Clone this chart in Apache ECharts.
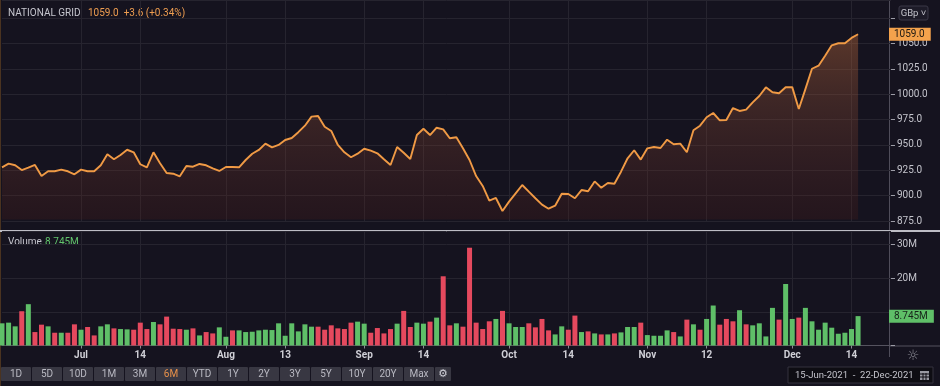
<!DOCTYPE html>
<html>
<head>
<meta charset="utf-8">
<script src="https://cdn.jsdelivr.net/npm/echarts@6/dist/echarts.min.js"></script>
<style>
html,body{margin:0;padding:0;background:#15131f;}
#chart{width:940px;height:386px;}
</style>
</head>
<body>
<div id="chart"></div>
<script>
// Trading days (LSE), 15-Jun-2021 .. 22-Dec-2021
const categories = [
 'Jun 15','Jun 16','Jun 17','Jun 18','Jun 21','Jun 22','Jun 23','Jun 24','Jun 25','Jun 28','Jun 29','Jun 30',
 'Jul 1','Jul 2','Jul 5','Jul 6','Jul 7','Jul 8','Jul 9','Jul 12','Jul 13','Jul 14','Jul 15','Jul 16','Jul 19','Jul 20','Jul 21','Jul 22','Jul 23','Jul 26','Jul 27','Jul 28','Jul 29','Jul 30',
 'Aug 2','Aug 3','Aug 4','Aug 5','Aug 6','Aug 9','Aug 10','Aug 11','Aug 12','Aug 13','Aug 16','Aug 17','Aug 18','Aug 19','Aug 20','Aug 23','Aug 24','Aug 25','Aug 26','Aug 27','Aug 31',
 'Sep 1','Sep 2','Sep 3','Sep 6','Sep 7','Sep 8','Sep 9','Sep 10','Sep 13','Sep 14','Sep 15','Sep 16','Sep 17','Sep 20','Sep 21','Sep 22','Sep 23','Sep 24','Sep 27','Sep 28','Sep 29','Sep 30',
 'Oct 1','Oct 4','Oct 5','Oct 6','Oct 7','Oct 8','Oct 11','Oct 12','Oct 13','Oct 14','Oct 15','Oct 18','Oct 19','Oct 20','Oct 21','Oct 22','Oct 25','Oct 26','Oct 27','Oct 28','Oct 29',
 'Nov 1','Nov 2','Nov 3','Nov 4','Nov 5','Nov 8','Nov 9','Nov 10','Nov 11','Nov 12','Nov 15','Nov 16','Nov 17','Nov 18','Nov 19','Nov 22','Nov 23','Nov 24','Nov 25','Nov 26','Nov 29','Nov 30',
 'Dec 1','Dec 2','Dec 3','Dec 6','Dec 7','Dec 8','Dec 9','Dec 10','Dec 13','Dec 14','Dec 15','Dec 16','Dec 17','Dec 20','Dec 21','Dec 22'
];

// Closing price, GBp
const closes = [
 927.9,931.5,929.9,925.2,927.5,930.2,919.3,924.0,924.0,925.6,924.0,921.0,925.6,924.0,924.0,929.9,940.7,935.8,940.0,945.2,
 942.7,930.9,927.9,942.7,931.9,922.3,921.6,919.0,929.2,928.5,931.2,929.9,926.9,924.3,928.2,928.2,927.9,935.1,941.3,945.0,
 951.2,947.6,949.9,954.8,956.8,962.5,968.9,977.8,978.4,967.9,963.7,949.9,942.7,937.8,941.3,946.2,944.3,941.7,935.8,930.2,
 947.9,942.3,936.1,959.7,965.9,959.7,966.9,965.3,956.5,957.5,946.6,935.1,919.3,909.5,895.0,897.7,884.9,894.1,902.3,910.5,
 903.9,897.4,891.1,887.1,890.1,901.9,901.6,897.4,905.5,904.3,914.0,907.8,912.4,911.7,923.6,936.8,944.7,935.5,946.6,947.9,
 946.9,955.1,950.6,951.2,942.7,964.4,968.9,977.2,981.4,974.2,974.5,986.3,983.4,984.7,991.9,998.2,1006.7,1001.8,1000.8,1006.7,
 1006.9,985.3,1004.9,1025.0,1028.0,1037.9,1048.1,1050.1,1050.1,1055.4,1059.0
];

// Volume, millions of shares
const volumes = [
 6.6,6.8,5.7,10.2,12.3,4.0,6.2,5.7,3.8,3.8,3.8,6.3,4.7,5.5,3.0,5.7,6.3,5.1,4.9,4.8,
 4.7,6.8,4.9,7.0,6.3,8.6,5.0,4.9,4.7,5.1,3.0,4.0,3.6,5.4,2.6,4.5,4.5,4.0,4.1,4.5,
 4.7,4.6,6.6,2.9,6.6,4.2,6.3,5.6,5.6,4.7,6.0,5.1,4.9,6.8,7.1,6.5,3.8,5.2,3.6,4.9,
 6.5,10.3,5.5,6.8,6.5,7.1,8.3,20.6,6.0,6.6,5.6,29.1,6.8,4.9,7.2,7.9,10.3,6.6,5.5,5.5,
 6.6,5.4,7.9,4.5,3.3,5.7,4.7,8.9,4.0,4.2,3.6,3.3,3.3,3.6,3.9,5.5,5.5,6.8,3.1,2.9,
 2.9,4.5,4.0,2.7,7.7,6.3,4.7,7.9,11.9,6.2,7.9,7.2,10.5,6.3,6.0,6.6,2.7,11.2,7.7,18.3,
 7.9,8.3,11.2,7.2,4.7,6.8,5.3,3.5,3.8,4.9,8.745
];

// Bar direction: G = up day, R = down day
const volumeDir = (
 'GGGRGRRGRG' + 'RRGRRGGRGG' + 'RRRGRRRRGR' + 'GRRGGRGGGG' + 'GGGGGGGGRR' +
 'RRRRGGRRRR' + 'GRRGGRGRRG' + 'RRRRRGRGGG' + 'RRRRGGRRGR' + 'GRGRGGGRGG' +
 'GGRGRGRGGR' + 'RRGRGGGGRG' + 'GRGGGGGGGGG'
).split('');

// X-axis tick dates and their labels
const tickDates  = ['Jul 1','Jul 14','Aug 2','Aug 13','Sep 1','Sep 14','Oct 1','Oct 14','Nov 1','Nov 12','Dec 1','Dec 14'];
const tickLabels = ['Jul','14','Aug','13','Sep','14','Oct','14','Nov','12','Dec','14'];

const rangeButtons = ['1D','5D','10D','1M','3M','6M','YTD','1Y','2Y','3Y','5Y','10Y','20Y','Max'];

const BG = '#15131f';
const GRIDC = '#26242f';
const GREEN = '#5fbf68';
const RED = '#e5495e';
const ORANGE = '#f09a45';
const FONT = 'Roboto, "Liberation Sans", sans-serif';

const lastClose = closes[closes.length - 1];
const lastVol = volumes[volumes.length - 1];

const tickSet = {};
tickDates.forEach((d, i) => { tickSet[d] = tickLabels[i]; });
const isTick = (idx) => tickSet[categories[idx]] !== undefined;

const chart = echarts.init(document.getElementById('chart'), null, {renderer: 'canvas'});

function txt(x, y, text, fill, size, extra) {
  return {
    type: 'text', x: x, y: y, silent: true,
    style: Object.assign({text: text, fill: fill, fontSize: size, fontFamily: FONT, verticalAlign: 'middle'}, extra || {})
  };
}

// UI buttons (graphic)
const btnGraphics = [];
rangeButtons.forEach((b, i) => {
  const x = 1 + i * 31;
  btnGraphics.push({
    type: 'rect', shape: {x: x, y: 367, width: 30, height: 14, r: 1},
    style: {fill: '#383742'}, silent: true
  });
  btnGraphics.push(txt(x + 15, 374.5, b, b === '6M' ? '#e8914a' : '#b9b9c2', 10, {align: 'center'}));
});
btnGraphics.push({type: 'rect', shape: {x: 435, y: 367, width: 16, height: 14, r: 1}, style: {fill: '#383742'}, silent: true});
btnGraphics.push({type: 'text', x: 443, y: 374, silent: true, style: {text: '⚙', fill: '#d0d0d8', fontSize: 11, fontFamily: 'DejaVu Sans', align: 'center', verticalAlign: 'middle'}});

const hiddenLine = {color: 'rgba(0,0,0,0)', width: 1, opacity: 1};

const option = {
  backgroundColor: BG,
  animation: false,
  textStyle: {fontFamily: FONT},
  grid: [
    {left: 2, width: 889, top: 0, height: 221},
    {left: 2, width: 889, top: 231, height: 114.5}
  ],
  xAxis: [
    {
      type: 'category', gridIndex: 0, data: categories, boundaryGap: false,
      axisLine: {show: false}, axisTick: {show: false}, axisLabel: {show: false},
      splitLine: {show: true, interval: isTick, lineStyle: {color: GRIDC, width: 1}}
    },
    {
      type: 'category', gridIndex: 1, data: categories, boundaryGap: false,
      axisLine: {show: true, lineStyle: {color: '#55535f', width: 1}},
      axisTick: {show: true, interval: isTick, length: 3, lineStyle: {color: '#8a8a94'}},
      axisLabel: {
        show: true, interval: isTick, color: '#cfcfd6', fontSize: 10, fontWeight: 'bold', margin: 5,
        formatter: (v) => tickSet[v] || ''
      },
      splitLine: {show: true, interval: isTick, lineStyle: {color: GRIDC, width: 1}}
    }
  ],
  yAxis: [
    {
      type: 'value', gridIndex: 0, position: 'right', min: 875, max: 875 + 221 / 1.015, interval: 25,
      axisLine: {show: false},
      axisTick: {show: true, length: 4, lineStyle: {color: '#9c9ca6'}},
      axisLabel: {color: '#c4c4cc', fontSize: 10, margin: 6, showMaxLabel: false,
        formatter: (v) => (v <= 1050 ? v.toFixed(1) : '')},
      splitLine: {show: true, lineStyle: {color: GRIDC, width: 1}}
    },
    {
      type: 'value', gridIndex: 1, position: 'right', min: 0, max: 114.5 / 3.36, interval: 10,
      axisLine: {show: false},
      axisTick: {show: true, length: 4, lineStyle: {color: '#9c9ca6'}},
      axisLabel: {color: '#c4c4cc', fontSize: 10, margin: 6, showMaxLabel: false,
        formatter: (v) => (v === 20 || v === 30 ? v + 'M' : '')},
      splitLine: {show: true, lineStyle: {color: GRIDC, width: 1}}
    }
  ],
  series: [
    {
      type: 'line', xAxisIndex: 0, yAxisIndex: 0, data: closes,
      symbol: 'none', smooth: false,
      lineStyle: {color: ORANGE, width: 1.9},
      areaStyle: {
        origin: 876.5,
        color: {
          type: 'linear', x: 0, y: 30, x2: 0, y2: 220, global: true,
          colorStops: [
            {offset: 0, color: 'rgba(195,110,60,0.58)'},
            {offset: 0.4, color: 'rgba(150,80,52,0.44)'},
            {offset: 0.75, color: 'rgba(110,50,38,0.38)'},
            {offset: 1, color: 'rgba(80,28,22,0.36)'}
          ]
        }
      },
      markLine: {
        silent: true, symbol: 'none',
        lineStyle: hiddenLine,
        data: [{yAxis: lastClose}],
        label: {
          show: true, position: 'end', distance: -2, opacity: 1,
          formatter: () => lastClose.toFixed(1),
          backgroundColor: '#f4a24c', color: '#1a1712', fontSize: 10,
          padding: [2, 6, 1, 5], fontFamily: FONT
        }
      },
      z: 3
    },
    {
      type: 'bar', xAxisIndex: 1, yAxisIndex: 1, data: volumes,
      barWidth: 5,
      itemStyle: {color: (p) => (volumeDir[p.dataIndex] === 'G' ? GREEN : RED)},
      markLine: {
        silent: true, symbol: 'none',
        lineStyle: hiddenLine,
        data: [{yAxis: lastVol}],
        label: {
          show: true, position: 'end', distance: -2, opacity: 1,
          formatter: () => lastVol.toFixed(3) + 'M',
          backgroundColor: GREEN, color: '#17241a', fontSize: 10,
          padding: [2, 6, 1, 5], fontFamily: FONT
        }
      }
    }
  ],
  graphic: [
    {type: 'rect', shape: {x: 0, y: 0, width: 1, height: 386}, style: {fill: '#4a3320'}, silent: true},
    {type: 'line', shape: {x1: 889.5, y1: 0, x2: 889.5, y2: 357}, style: {stroke: '#4f4d5a', lineWidth: 1}, silent: true},
    {type: 'line', shape: {x1: 0, y1: 231, x2: 940, y2: 231}, style: {stroke: '#bdbdc5', lineWidth: 2}, silent: true},
    {type: 'line', shape: {x1: 889, y1: 346, x2: 940, y2: 346}, style: {stroke: '#55535f', lineWidth: 1}, silent: true},
    txt(8, 13.5, 'NATIONAL GRID', '#c6c6ce', 10),
    txt(88, 13.5, lastClose.toFixed(1) + '  +3.6 (+0.34%)', '#ee9d50', 10),
    txt(8, 242.5, 'Volume', '#c6c6ce', 10),
    txt(45, 242.5, lastVol.toFixed(3) + 'M', '#62c46c', 10),
    {type: 'rect', shape: {x: 899, y: 6, width: 29, height: 14, r: 2}, style: {fill: '#1d1b28', stroke: '#3a3846', lineWidth: 1}, silent: true},
    txt(913.5, 13.5, 'GBp ˅', '#c4c4cc', 9.5, {align: 'center'}),
    {type: 'text', x: 913, y: 356, silent: true, style: {text: '☼', fill: '#8a8a94', fontSize: 14, fontFamily: 'DejaVu Sans', align: 'center', verticalAlign: 'middle'}},
    {type: 'rect', shape: {x: 788, y: 367, width: 145, height: 16}, style: {fill: '#0e0d13', stroke: '#34323e', lineWidth: 1}, silent: true},
    txt(795, 375.5, '15-Jun-2021  -  22-Dec-2021', '#c4c4cc', 9.5),
    {type: 'rect', shape: {x: 920, y: 371, width: 9, height: 9}, style: {fill: '#9a9aa2'}, silent: true},
    {type: 'line', shape: {x1: 920, y1: 374, x2: 929, y2: 374}, style: {stroke: '#0e0d13', lineWidth: 1}, silent: true},
    {type: 'line', shape: {x1: 920, y1: 377, x2: 929, y2: 377}, style: {stroke: '#0e0d13', lineWidth: 1}, silent: true},
    {type: 'line', shape: {x1: 923, y1: 373, x2: 923, y2: 380}, style: {stroke: '#0e0d13', lineWidth: 1}, silent: true},
    {type: 'line', shape: {x1: 926, y1: 373, x2: 926, y2: 380}, style: {stroke: '#0e0d13', lineWidth: 1}, silent: true}
  ].concat(btnGraphics)
};

chart.setOption(option);
</script>
</body>
</html>
